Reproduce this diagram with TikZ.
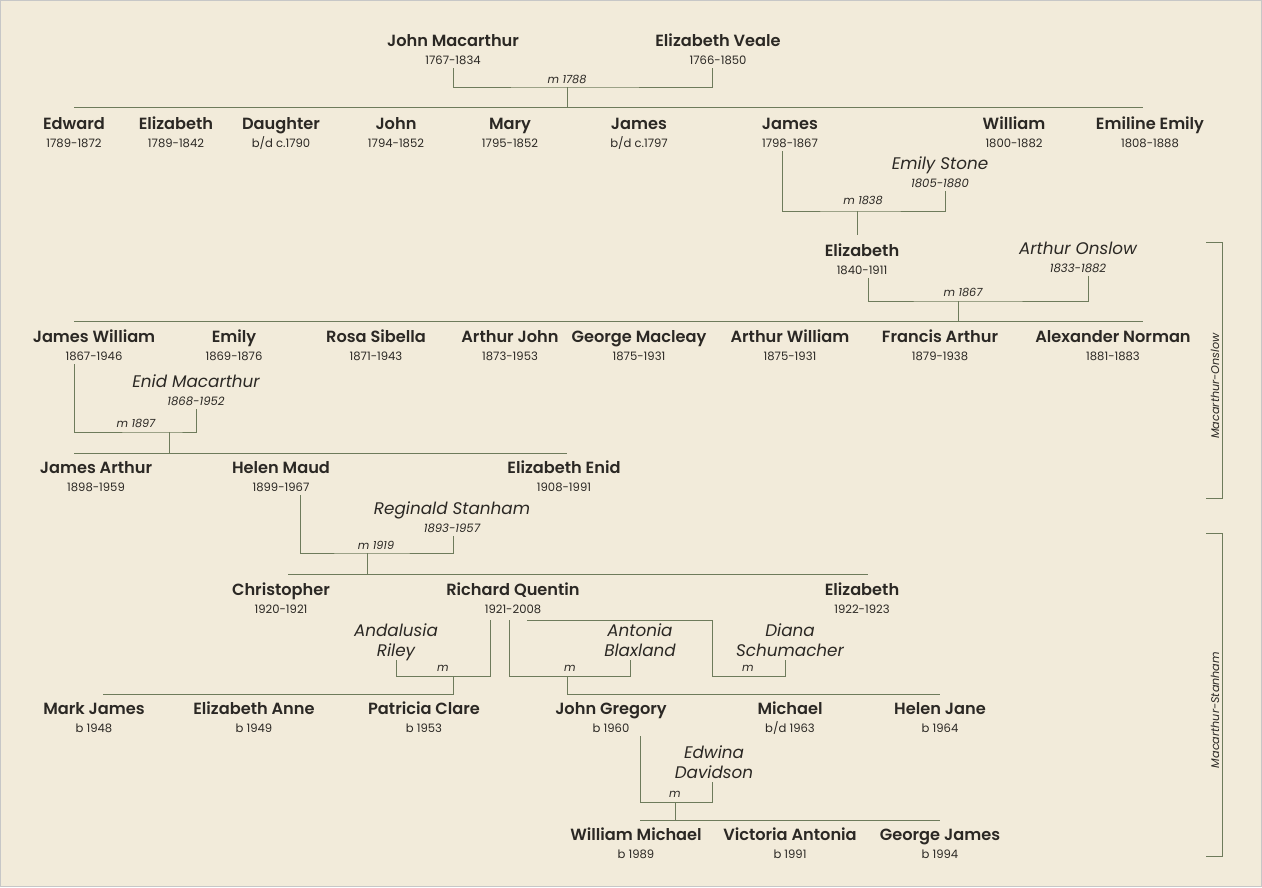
\documentclass[tikz,border=0pt]{standalone}
\usepackage{fontspec}
\setmainfont{Poppins}
\newfontfamily\namefont{Poppins SemiBold}
\definecolor{mcbg}{HTML}{F2EBDA}
\definecolor{mcline}{HTML}{6E7B5B}
\definecolor{mctext}{HTML}{2B2824}
\usetikzlibrary{positioning}
% name on one line, dates under it
\newcommand{\pers}[5]{%
  \node[pname] (#1) at ({#2},{#3+6}) {#4};
  \node[pdate] (#1-d) at ({#2},{#3+24}) {#5};}
\newcommand{\spo}[5]{%
  \node[spouse] (#1) at ({#2},{#3+6}) {#4};
  \node[sdate] (#1-d) at ({#2},{#3+24}) {#5};}

\begin{document}
\begin{tikzpicture}[x=1pt,y=-1pt,
  pname/.style={anchor=base,inner sep=1pt,text=mctext,font=\namefont\fontsize{16.2}{19}\selectfont},
  pdate/.style={anchor=base,inner sep=1pt,text=mctext,font=\fontsize{11.6}{13}\selectfont},
  spouse/.style={anchor=base,inner sep=1pt,text=mctext,font=\itshape\fontsize{16.8}{19}\selectfont},
  sdate/.style={pdate,font=\itshape\fontsize{11.6}{13}\selectfont},
  mlab/.style={inner sep=1pt,text=mctext,font=\itshape\fontsize{11.2}{13}\selectfont},
  tie/.style={draw=mcline,line width=1pt}]
  \useasboundingbox (0,0) rectangle (1262,887);
  \fill[mcbg] (0,0) rectangle (1262,887);
  \draw[black!22] (0.5,0.5) rectangle (1261.5,886.5);

  % generation 1
  \pers{jm}{453}{40}{John Macarthur}{1767-1834}
  \pers{ev}{718}{40}{Elizabeth Veale}{1766-1850}
  \foreach \id/\x/\n/\d in {c1/74/Edward/1789-1872, c2/176/Elizabeth/1789-1842,
      c3/281/Daughter/{b/d c.1790}, c4/396/John/1794-1852, c5/510/Mary/1795-1852,
      c6/639/James/{b/d c.1797}, jb/790/James/1798-1867, c8/1014/William/1800-1882,
      c9/1150/Emiline Emily/1808-1888}
    \pers{\id}{\x}{123}{\n}{\d};
  \spo{es}{940}{163}{Emily Stone}{1805-1880}
  \pers{el}{862}{250}{Elizabeth}{1840-1911}
  \spo{ao}{1078}{248}{Arthur Onslow}{1833-1882}
  \foreach \id/\x/\n/\d in {jw/94/James William/1867-1946, o2/234/Emily/1869-1876,
      o3/376/Rosa Sibella/1871-1943, o4/510/Arthur John/1873-1953,
      o5/639/George Macleay/1875-1931, o6/790/Arthur William/1875-1931,
      o7/940/Francis Arthur/1879-1938, o8/1113/Alexander Norman/1881-1883}
    \pers{\id}{\x}{336}{\n}{\d};
  \spo{en}{196}{381}{Enid Macarthur}{1868-1952}
  \foreach \id/\x/\n/\d in {ja/96/James Arthur/1898-1959, hm/281/Helen Maud/1899-1967,
      ee/564/Elizabeth Enid/1908-1991}
    \pers{\id}{\x}{467}{\n}{\d};
  \spo{rs}{452}{508}{Reginald Stanham}{1893-1957}
  \foreach \id/\x/\n/\d in {ch/281/Christopher/1920-1921, rq/513/Richard Quentin/1921-2008,
      ez/862/Elizabeth/1922-1923}
    \pers{\id}{\x}{589}{\n}{\d};
  \foreach \id/\x/\a/\b in {ar/396/Andalusia/Riley, ab/640/Antonia/Blaxland,
      ds/790/Diana/Schumacher} {
    \node[spouse] (\id) at (\x,636) {\a};
    \node[spouse] (\id-2) at (\x,656) {\b};
  }
  \foreach \id/\x/\n/\d in {mj/94/Mark James/b 1948, ea/254/Elizabeth Anne/b 1949,
      pc/424/Patricia Clare/b 1953, jg/611/John Gregory/b 1960, mi/790/Michael/{b/d 1963},
      hj/940/Helen Jane/b 1964}
    \pers{\id}{\x}{708}{\n}{\d};
  \node[spouse] (ed) at (714,758) {Edwina};
  \node[spouse] (ed-2) at (714,778) {Davidson};
  \foreach \id/\x/\n/\d in {wm/636/William Michael/b 1989, va/790/Victoria Antonia/b 1991,
      gj/940/George James/b 1994}
    \pers{\id}{\x}{834}{\n}{\d};

  % marriages
  \coordinate (m1) at (567,87);
  \draw[tie] ([yshift=-4pt]jm-d.base) |- (m1) -| ([xshift=-6pt,yshift=-4pt]ev-d.base);
  \node[mlab] (m1-l) at (567,79) {m 1788};
  \coordinate (k1) at (567,107); \coordinate (k1a) at (74,107); \coordinate (k1b) at (1143,107);
  \draw[tie] (m1) -- (k1) (k1a) -- (k1b);

  \coordinate (m2) at (857,211);
  \draw[tie] ([xshift=-8pt,yshift=-4pt]jb-d.base) |- (m2) -| ([xshift=5pt,yshift=-4pt]es-d.base);
  \node[mlab] (m2-l) at (863,200) {m 1838};
  \coordinate (k2) at (857,235);
  \draw[tie] (m2) -- (k2);

  \coordinate (m3) at (958,301);
  \draw[tie] ([xshift=6pt,yshift=-4pt]el-d.base) |- (m3) -| ([xshift=10pt,yshift=-4pt]ao-d.base);
  \node[mlab] (m3-l) at (963,292) {m 1867};
  \coordinate (k3) at (958,321); \coordinate (k3a) at (74,321); \coordinate (k3b) at (1143,321);
  \draw[tie] (m3) -- (k3) (k3a) -- (k3b);

  \coordinate (m4) at (169,432);
  \draw[tie] ([xshift=-20pt,yshift=-4pt]jw-d.base) |- (m4) -| ([yshift=-4pt]en-d.base);
  \node[mlab] (m4-l) at (136,423) {m 1897};
  \coordinate (k4) at (169,453); \coordinate (k4a) at (74,453); \coordinate (k4b) at (567,453);
  \draw[tie] (m4) -- (k4) (k4a) -- (k4b);

  \coordinate (m5) at (367,553);
  \draw[tie] ([xshift=19pt,yshift=-4pt]hm-d.base) |- (m5) -| ([xshift=1pt,yshift=-4pt]rs-d.base);
  \node[mlab] (m5-l) at (376,545) {m 1919};
  \coordinate (k5) at (367,574); \coordinate (k5a) at (288,574); \coordinate (k5b) at (868,574);
  \draw[tie] (m5) -- (k5) (k5a) -- (k5b);

  \coordinate (m6) at (453,676);
  \draw[tie] ([xshift=-23pt,yshift=-7pt]rq-d.base) |- (m6) -| ([yshift=-4pt]ar-2.base);
  \node[mlab] (m6-l) at (443,668) {m};
  \coordinate (k6) at (453,694); \coordinate (k6a) at (103,694);
  \draw[tie] (m6) -- (k6) -- (k6a);

  \coordinate (m7) at (567,676);
  \draw[tie] ([xshift=-4pt,yshift=-7pt]rq-d.base) |- (m7) -| ([xshift=-10pt,yshift=-4pt]ab-2.base);
  \node[mlab] (m7-l) at (570,668) {m};
  \coordinate (k7) at (567,694); \coordinate (k7b) at (940,694);
  \draw[tie] (m7) -- (k7) -- (k7b);

  \coordinate (m8) at (712,676);
  \draw[tie] ([xshift=14pt,yshift=-7pt]rq-d.base) -| (m8) -| ([xshift=-5pt,yshift=-4pt]ds-2.base);
  \node[mlab] (m8-l) at (748,668) {m};

  \coordinate (m9) at (675,802);
  \draw[tie] ([xshift=29pt,yshift=-4pt]jg-d.base) |- (m9) -| ([xshift=-2pt,yshift=-4pt]ed-2.base);
  \node[mlab] (m9-l) at (675,794) {m};
  \coordinate (k9) at (675,820); \coordinate (k9a) at (640,820); \coordinate (k9b) at (940,820);
  \draw[tie] (m9) -- (k9) (k9a) -- (k9b);

  % branches
  \coordinate (br1a) at (1206,242); \coordinate (br1b) at (1206,498);
  \draw[tie,line width=0.8pt] (br1a) -| ([xshift=16pt]br1b) -- (br1b);
  \node[mlab,rotate=90] (br1-l) at (1215,386) {Macarthur-Onslow};
  \coordinate (br2a) at (1206,533); \coordinate (br2b) at (1206,856);
  \draw[tie,line width=0.8pt] (br2a) -| ([xshift=16pt]br2b) -- (br2b);
  \node[mlab,rotate=90] (br2-l) at (1215,710) {Macarthur-Stanham};
\end{tikzpicture}
\end{document}
